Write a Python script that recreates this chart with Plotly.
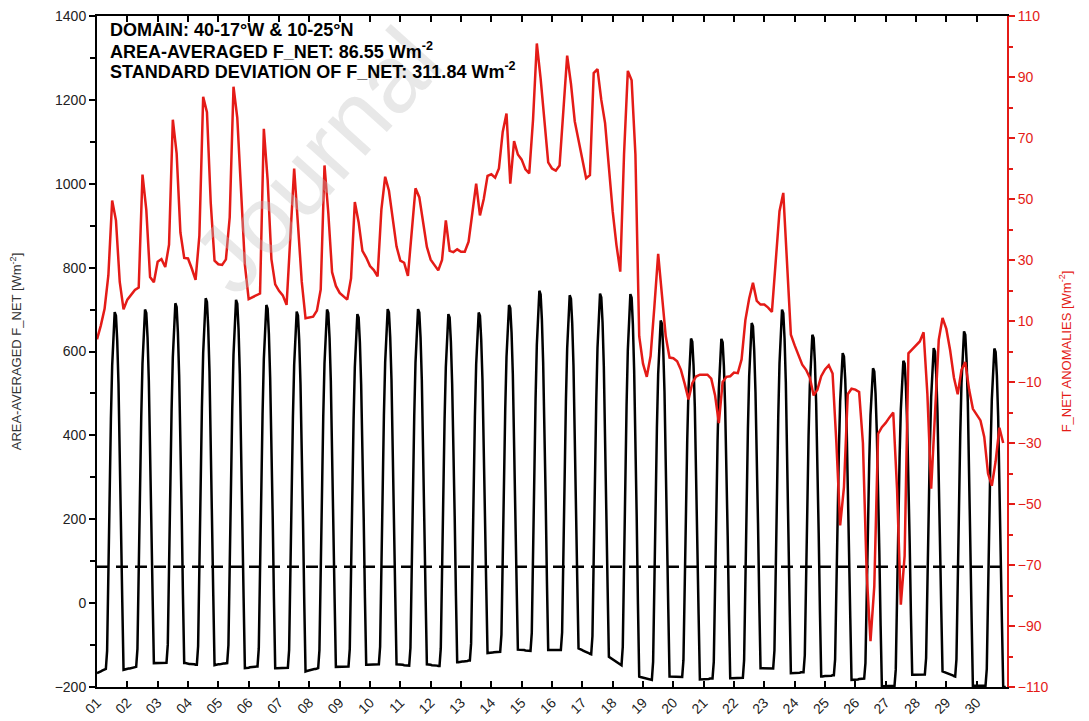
import numpy as np
import plotly.graph_objects as go

# hourly area-averaged net flux (Wm-2), one row per day, 00..23 UTC
f_net = [
    -167, -166, -164, -163, -161, -160, -158, -157, -114, 90, 277, 439, 566, 651, 694, 685, 626, 523, 378, 199, 3, -159, -158, -158,
    -157, -156, -156, -155, -154, -154, -153, -152, -109, 95, 283, 444, 572, 657, 700, 692, 633, 531, 388, 211, 17, -143, -143, -143,
    -143, -143, -142, -142, -142, -142, -142, -142, -99, 107, 295, 458, 587, 672, 715, 706, 646, 543, 398, 217, 20, -143, -143, -144,
    -144, -145, -145, -145, -146, -146, -147, -147, -103, 107, 299, 465, 596, 683, 727, 718, 657, 552, 403, 220, 18, -148, -147, -147,
    -146, -146, -145, -145, -144, -144, -143, -143, -100, 108, 299, 463, 593, 680, 723, 714, 653, 547, 398, 214, 12, -155, -155, -154,
    -154, -153, -153, -153, -152, -152, -151, -151, -108, 99, 289, 452, 582, 668, 711, 702, 642, 538, 391, 209, 10, -155, -155, -155,
    -155, -155, -154, -154, -154, -154, -154, -154, -112, 92, 279, 440, 568, 653, 695, 686, 626, 523, 378, 197, 0, -163, -162, -161,
    -160, -160, -159, -158, -157, -157, -156, -155, -112, 93, 281, 444, 572, 657, 700, 692, 632, 530, 385, 206, 10, -152, -152, -152,
    -152, -152, -151, -151, -151, -151, -151, -151, -109, 93, 277, 437, 563, 647, 689, 681, 622, 522, 380, 204, 12, -147, -147, -147,
    -147, -147, -146, -146, -146, -146, -146, -146, -104, 100, 286, 447, 574, 659, 701, 693, 633, 532, 388, 210, 15, -146, -146, -147,
    -147, -147, -147, -148, -148, -148, -149, -149, -107, 98, 285, 446, 574, 659, 701, 693, 633, 532, 388, 210, 15, -146, -146, -147,
    -147, -148, -148, -148, -149, -149, -150, -150, -108, 93, 278, 437, 563, 647, 689, 681, 623, 523, 382, 208, 17, -141, -141, -140,
    -140, -139, -139, -139, -138, -138, -137, -137, -96, 104, 286, 444, 569, 652, 693, 685, 628, 531, 393, 222, 35, -119, -119, -118,
    -118, -118, -117, -117, -117, -117, -116, -116, -75, 124, 306, 463, 587, 670, 711, 703, 645, 547, 407, 234, 45, -111, -111, -112,
    -112, -112, -112, -113, -113, -113, -114, -114, -71, 135, 324, 487, 616, 702, 745, 736, 676, 574, 428, 248, 51, -112, -112, -112,
    -112, -112, -112, -112, -112, -112, -112, -112, -70, 133, 320, 480, 607, 692, 734, 726, 667, 566, 423, 246, 52, -108, -109, -111,
    -112, -114, -115, -116, -118, -119, -121, -122, -79, 127, 317, 480, 609, 695, 738, 729, 669, 565, 418, 236, 37, -128, -130, -132,
    -134, -136, -138, -140, -142, -144, -146, -148, -104, 109, 303, 472, 604, 693, 737, 728, 664, 555, 400, 208, -2, -175, -176, -177,
    -177, -178, -179, -180, -180, -181, -182, -183, -140, 66, 254, 417, 546, 631, 674, 666, 606, 504, 360, 182, -14, -175, -175, -175,
    -175, -175, -176, -176, -176, -176, -176, -176, -136, 58, 236, 389, 510, 591, 631, 623, 566, 468, 330, 160, -28, -182, -182, -182,
    -181, -181, -181, -181, -181, -180, -180, -180, -140, 55, 233, 387, 509, 590, 630, 622, 565, 468, 331, 161, -25, -179, -179, -179,
    -179, -179, -178, -178, -178, -178, -178, -178, -136, 67, 254, 414, 541, 626, 668, 660, 602, 503, 364, 191, 1, -155, -155, -155,
    -155, -155, -156, -156, -156, -156, -156, -156, -113, 92, 281, 443, 572, 657, 700, 691, 631, 527, 379, 197, -2, -167, -167, -167,
    -166, -166, -166, -166, -166, -165, -165, -165, -125, 69, 246, 399, 519, 600, 640, 632, 575, 477, 339, 167, -20, -175, -175, -174,
    -174, -174, -174, -173, -173, -173, -172, -172, -134, 51, 220, 366, 481, 558, 596, 588, 534, 440, 308, 144, -35, -183, -183, -182,
    -182, -182, -182, -181, -181, -181, -180, -180, -143, 35, 197, 338, 449, 523, 560, 552, 499, 408, 280, 120, -54, -198, -198, -198,
    -198, -198, -198, -197, -197, -197, -197, -197, -158, 28, 198, 346, 462, 539, 578, 571, 518, 428, 301, 144, -29, -171, -171, -171,
    -171, -171, -171, -170, -170, -170, -170, -170, -131, 56, 227, 375, 491, 569, 608, 600, 546, 454, 323, 161, -17, -163, -164, -165,
    -166, -168, -169, -170, -171, -172, -174, -175, -134, 64, 245, 401, 525, 607, 648, 640, 580, 479, 335, 158, -37, -197, -197, -197,
    -197, -197, -197, -197, -197, -197, -197, -197, -157, 36, 213, 366, 486, 567, 607, 599, 542, 446, 308, 139, -47, -200, -200, -200,
]

# 3-hourly F_NET anomalies (Wm-2), one row per day
f_net_anom = [
    4, 8.5, 14, 25, 49.5, 43, 22.8, 13.8,
    17, 18.7, 20.2, 21, 58, 46.5, 24.4, 22.7,
    29.4, 30.3, 27.7, 35, 76, 65, 39, 30.7,
    30.5, 27.2, 23.5, 38, 83.5, 78.5, 48.7, 29.8,
    28.6, 28.4, 30.2, 44, 86.8, 76.6, 50.5, 28.5,
    17.2, 17.8, 18.4, 19, 73, 56.3, 30.3, 22,
    19.9, 18.4, 15.3, 36.6, 60, 41.7, 22.9, 10.9,
    11.1, 11.4, 13.4, 20.3, 61, 45.5, 26, 21.5,
    19.2, 18.1, 17, 24, 49, 42.4, 33, 30.8,
    28, 26.7, 24.6, 46.5, 57.3, 52.7, 42.8, 34.4,
    29.8, 29.1, 24.8, 39, 53.5, 50.6, 41.9, 34.3,
    30.1, 28.3, 26.6, 30, 43, 33, 32.6, 33.5,
    32.7, 32.7, 36, 45.5, 55, 44.6, 50, 57.6,
    58.1, 57, 60, 72, 78, 55, 69, 64.6,
    62.9, 59.7, 58.4, 76, 101, 89.5, 75.5, 62,
    60, 59.3, 61, 78, 97, 87.8, 75.5, 69.3,
    63.5, 56.8, 57.8, 91.3, 92.6, 82.5, 74.9, 59.4,
    46, 34.9, 26.2, 64.7, 92, 88.9, 64.6, 5,
    -4, -8.3, -1.5, 14.7, 32, 18.5, 5, -2,
    -2.2, -3.2, -6, -10.6, -15.7, -10.4, -8.2, -7.6,
    -7.6, -7.6, -8.9, -14.3, -23.5, -10, -8.3, -8.1,
    -6.9, -7.1, -2.6, 10.3, 17.4, 22.5, 16.6, 15.4,
    15.4, 14.4, 13, 30.4, 46, 52, 29.7, 5.5,
    2, -1.5, -4.3, -6, -8.6, -14.4, -12.5, -8.1,
    -5.9, -4.5, -7.2, -30, -57, -44.5, -14, -12.2,
    -12.5, -13.3, -30, -73, -95, -77, -27, -24.8,
    -23.4, -21.6, -20, -45, -83, -67, -0.6, 0.7,
    2, 3.3, 6.3, -14, -45, -20, 3.8, 11,
    7.4, 0.4, -8.5, -14, -6, -3.5, -12.4, -18.8,
    -20.7, -22.6, -28, -40, -44, -36, -25, -30,
]

f_net_mean = 86.55
f_net_std = 311.84
day_labels = [f"{d:02d}" for d in range(1, 31)]

RED = "#e41b17"
INK = "#222222"

t_hourly = np.arange(len(f_net)) / 24.0
t_3h = np.arange(len(f_net_anom)) * 3 / 24.0
n_days = len(day_labels)

fig = go.Figure()
fig.add_trace(go.Scatter(x=t_hourly, y=f_net, mode="lines",
                         line=dict(color="black", width=2.5)))
fig.add_trace(go.Scatter(x=[0, n_days], y=[f_net_mean, f_net_mean], mode="lines",
                         line=dict(color="black", width=2.5, dash="12px,7px")))
fig.add_trace(go.Scatter(x=t_3h, y=f_net_anom, mode="lines", yaxis="y2",
                         line=dict(color=RED, width=2.5)))

info_lines = [
    "<b>DOMAIN: 40-17°W & 10-25°N</b>",
    f"<b>AREA-AVERAGED F_NET: {f_net_mean:.2f} Wm<sup>-2</sup></b>",
    f"<b>STANDARD DEVIATION OF F_NET: {f_net_std:.2f} Wm<sup>-2</sup></b>",
]
# faint watermark seen in the source picture
annotations = [
    dict(text="Journal", xref="paper", yref="paper", x=0.2407, y=0.785,
         xanchor="center", yanchor="middle", textangle=-48, showarrow=False,
         font=dict(size=96, color="rgba(190,190,190,0.35)")),
]
for i, line in enumerate(info_lines):
    annotations.append(dict(text=line, xref="paper", yref="paper",
                            x=0.0125, y=0.979 - i * 0.0298,
                            xanchor="left", yanchor="middle", align="left",
                            showarrow=False, font=dict(size=18, color="black")))

# the page body shifts the figure by 8px, so it is sized to fit the window
fig.update_layout(
    width=1081, height=713,
    margin=dict(l=89, r=82, t=8, b=34),
    plot_bgcolor="white", paper_bgcolor="white",
    showlegend=False,
    font=dict(family="Liberation Sans, Arial, sans-serif", size=14, color=INK),
    xaxis=dict(range=[0, n_days], tickvals=list(range(n_days)), ticktext=day_labels,
               tickangle=-45, ticks="inside", ticklen=6, tickwidth=1.5, tickcolor="black",
               showline=True, linecolor="black", linewidth=2, mirror="ticks",
               showgrid=False, zeroline=False, automargin=False,
               ticklabeloverflow="allow", tickfont=dict(size=14, color=INK)),
    yaxis=dict(range=[-200, 1400], tick0=-200, dtick=200, ticks="outside", ticklen=6,
               tickwidth=1.5, tickcolor="black", showline=True, linecolor="black", linewidth=2,
               minor=dict(dtick=100, ticks="outside", ticklen=5, tickcolor="black"),
               showgrid=False, zeroline=False, automargin=False,
               ticklabeloverflow="allow", tickfont=dict(size=14, color=INK),
               title=dict(text="AREA-AVERAGED F_NET [Wm<sup>-2</sup>]",
                          font=dict(size=13, color="#333333"), standoff=30)),
    yaxis2=dict(range=[-110, 110], tick0=-110, dtick=20, overlaying="y", side="right",
                ticks="outside", ticklen=6, tickwidth=1.5, tickcolor=RED,
                showline=True, linecolor=RED, linewidth=2,
                minor=dict(dtick=10, ticks="outside", ticklen=4, tickcolor=RED),
                showgrid=False, zeroline=False, automargin=False,
                ticklabeloverflow="allow", tickfont=dict(size=14, color=RED),
                title=dict(text="F_NET ANOMALIES [Wm<sup>-2</sup>]",
                           font=dict(size=13, color=RED), standoff=14)),
    annotations=annotations,
)

fig.write_html("out.html")
